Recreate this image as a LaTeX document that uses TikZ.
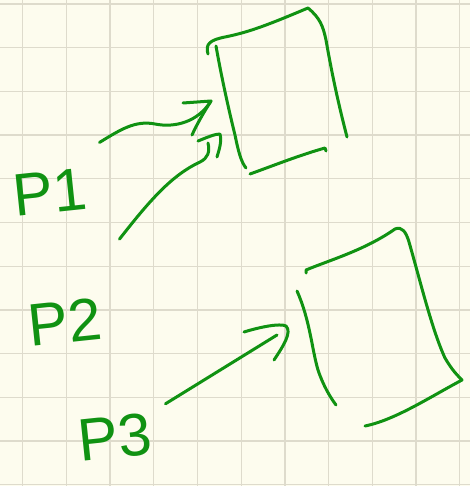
\documentclass[tikz,border=0pt]{standalone}
\usepackage{fontspec}
\setmainfont{Liberation Sans}
\usetikzlibrary{arrows.meta, positioning}

\definecolor{paper}{RGB}{253,252,238}
\definecolor{gridline}{RGB}{222,219,204}
\definecolor{ink}{RGB}{16,146,18}

\begin{document}
\begin{tikzpicture}[
    x=1pt, y=-1pt,
    pen/.style={draw=ink, line width=3pt, line cap=round, line join=round},
    gridrule/.style={draw=gridline, line width=1.3pt},
    tag/.style={text=ink, font=\fontsize{60}{60}\selectfont, inner sep=0pt,
                rotate=6},
]

% ── Paper and grid ──
\fill[paper] (0,0) rectangle (470,486);
\useasboundingbox (0,0) rectangle (470,486);
\foreach \k in {0,...,10}
  \draw[gridrule] (22.7+43.7*\k,0) -- ++(0,486);
\foreach \k in {0,...,11}
  \draw[gridrule] (0,4+43.7*\k) -- ++(470,0);

% ── Labels ──
\node[tag] (p1) at (50,192) {P1};
\node[tag] (p2) at (65,322) {P2};
\node[tag] (p3) at (115,437) {P3};

% ── Arrow tips ──
\coordinate (tip1) at (211,101);
\coordinate (tip2) at (208,143);
\coordinate (tip3) at (277,335);

% ── Box 1 ──
\draw[pen] (208,54) .. controls (205,44) and (210,40) .. (225,37)
  .. controls (250,32) and (270,24) .. (308,8)
  .. controls (320,18) and (323,26) .. (326,40)
  .. controls (333,80) and (340,110) .. (347,137);
\draw[pen] (216,46) .. controls (222,80) and (230,115) .. (235,135)
  .. controls (238,150) and (241,162) .. (246,168);
\draw[pen] (250,174) .. controls (275,165) and (300,155) .. (325,148) -- (326,151);

% ── Box 2 ──
\draw[pen] (306,273) -- (306,270)
  .. controls (330,260) and (365,250) .. (395,229)
  .. controls (402,226) and (406,232) .. (409,242)
  .. controls (420,280) and (432,330) .. (445,358)
  .. controls (452,370) and (457,375) .. (462,380)
  .. controls (430,397) and (395,420) .. (365,426);
\draw[pen] (297,291) .. controls (310,320) and (312,350) .. (318,370)
  .. controls (323,385) and (330,397) .. (336,405);

% ── Arrows ──
\draw[pen] ([shift={(15,-25)}]p1.north east)
  .. controls (120,130) and (135,120) .. (155,124)
  .. controls (175,128) and (198,122) .. (tip1);
\draw[pen] ([shift={(-28,2)}]tip1) -- (tip1)
  .. controls (204,112) and (197,124) .. (192,135);

\draw[pen] ([shift={(20,-58)}]p2.north east)
  .. controls (150,200) and (172,175) .. (200,162)
  .. controls (208,158) and (210,152) .. (tip2);
\draw[pen] ([shift={(-10,-2)}]tip2) .. controls (208,137) and (215,134) .. (220,134)
  .. controls (222,142) and (219,150) .. (217,157);

\draw[pen] ([shift={(16,-8)}]p3.north east) -- (tip3);
\draw[pen] (244,332) .. controls (260,327) and (280,323) .. (286,326)
  .. controls (292,332) and (284,345) .. (274,360);

\end{tikzpicture}
\end{document}
